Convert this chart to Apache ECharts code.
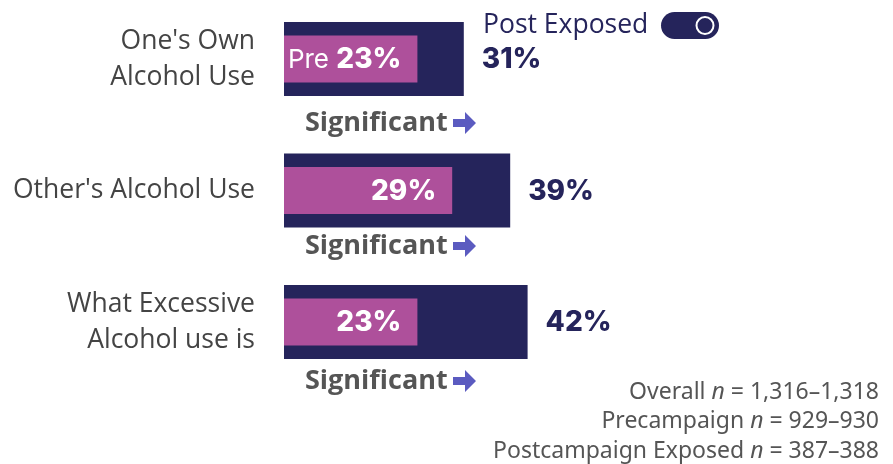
<!DOCTYPE html>
<html><head><meta charset="utf-8">
<script src="https://cdn.jsdelivr.net/npm/echarts@6/dist/echarts.min.js"></script>
<style>html,body{margin:0;padding:0;background:#fff;overflow:hidden}#c{width:893px;height:484px;margin-top:-20px}</style>
</head><body><div id="c"></div>
<script>
const categories = ["One's Own\nAlcohol Use", "Other's Alcohol Use", "What Excessive\nAlcohol use is"];
const postExposed = [31, 39, 42];
const precampaign = [23, 29, 23];
const prePrefix = ["Pre ", "", ""];
const significance = ["Significant", "Significant", "Significant"];
const legendLabel = "Post Exposed";
const footnotes = [
  ["Overall ", "n", " = 1,316\u20131,318"],
  ["Precampaign ", "n", " = 929\u2013930"],
  ["Postcampaign Exposed ", "n", " = 387\u2013388"]
];

const NAVY = '#25245b';
const PINK = '#ae509b';
const GRAY = '#444444';
const ARROW = '#5b5bc0';
const OFF = 20; // chart div is shifted up by this many px

const chart = echarts.init(document.getElementById('c'));

const sigY = [123, 246, 381];
const graphics = [];
sigY.forEach((y, i) => {
  const yy = y + OFF;
  graphics.push({
    type: 'text', x: 305, y: yy,
    style: { text: significance[i], font: 'bold 27px "Open Sans"', fill: '#555555', verticalAlign: 'middle' }
  });
  graphics.push({
    type: 'polygon',
    shape: { points: [[453, yy - 4], [465, yy - 4], [465, yy - 11], [476, yy], [465, yy + 11], [465, yy + 4], [453, yy + 4]] },
    style: { fill: ARROW }
  });
});
// legend toggle
graphics.push({
  type: 'text', x: 483, y: 25 + OFF,
  style: { text: legendLabel, font: '26.5px "Open Sans"', fill: NAVY, verticalAlign: 'middle' }
});
graphics.push({
  type: 'rect', shape: { x: 661, y: 12 + OFF, width: 58, height: 27, r: 13.5 },
  style: { fill: NAVY }
});
graphics.push({
  type: 'circle', shape: { cx: 705, cy: 25.5 + OFF, r: 8.5 },
  style: { fill: NAVY, stroke: '#ffffff', lineWidth: 2 }
});
// footnotes
footnotes.forEach((f, i) => {
  graphics.push({
    type: 'text', x: 879, y: 392 + OFF + i * 29.5,
    style: {
      text: '{a|' + f[0] + '}{i|' + f[1] + '}{a|' + f[2] + '}',
      align: 'right', verticalAlign: 'middle',
      rich: {
        a: { font: '23px "Noto Sans"', fill: '#555555' },
        i: { font: 'italic 23px "Noto Sans"', fill: '#555555' }
      }
    }
  });
});

chart.setOption({
  animation: false,
  grid: { left: 284, width: 580, top: 13.25, height: 394.5, containLabel: false },
  xAxis: { type: 'value', min: 0, max: 100, show: false },
  yAxis: [
    {
      type: 'category', data: categories, inverse: true,
      axisLine: { show: false }, axisTick: { show: false },
      axisLabel: { margin: 29, fontFamily: 'Open Sans', fontSize: 26.5, color: GRAY, lineHeight: 36, align: 'right' }
    },
    { type: 'category', data: categories, inverse: true, show: false }
  ],
  series: [
    {
      type: 'bar', yAxisIndex: 0, data: postExposed, barWidth: 74,
      itemStyle: { color: NAVY },
      label: {
        show: true, position: 'right', distance: 18, offset: [0, 1],
        formatter: p => p.value + '%',
        fontFamily: 'Inter', fontWeight: 800, fontSize: 28, color: NAVY
      }
    },
    {
      type: 'bar', yAxisIndex: 1, data: precampaign, barWidth: 47,
      itemStyle: { color: PINK },
      label: {
        show: true, position: 'insideRight', distance: 16, offset: [0, 1],
        formatter: p => (prePrefix[p.dataIndex] ? '{p|' + prePrefix[p.dataIndex] + '}' : '') + '{b|' + p.value + '%}',
        rich: {
          p: { fontFamily: 'Inter', fontSize: 26, color: '#fff' },
          b: { fontFamily: 'Inter', fontWeight: 800, fontSize: 28, color: '#fff' }
        }
      }
    }
  ],
  graphic: graphics
});
</script>
</body></html>
